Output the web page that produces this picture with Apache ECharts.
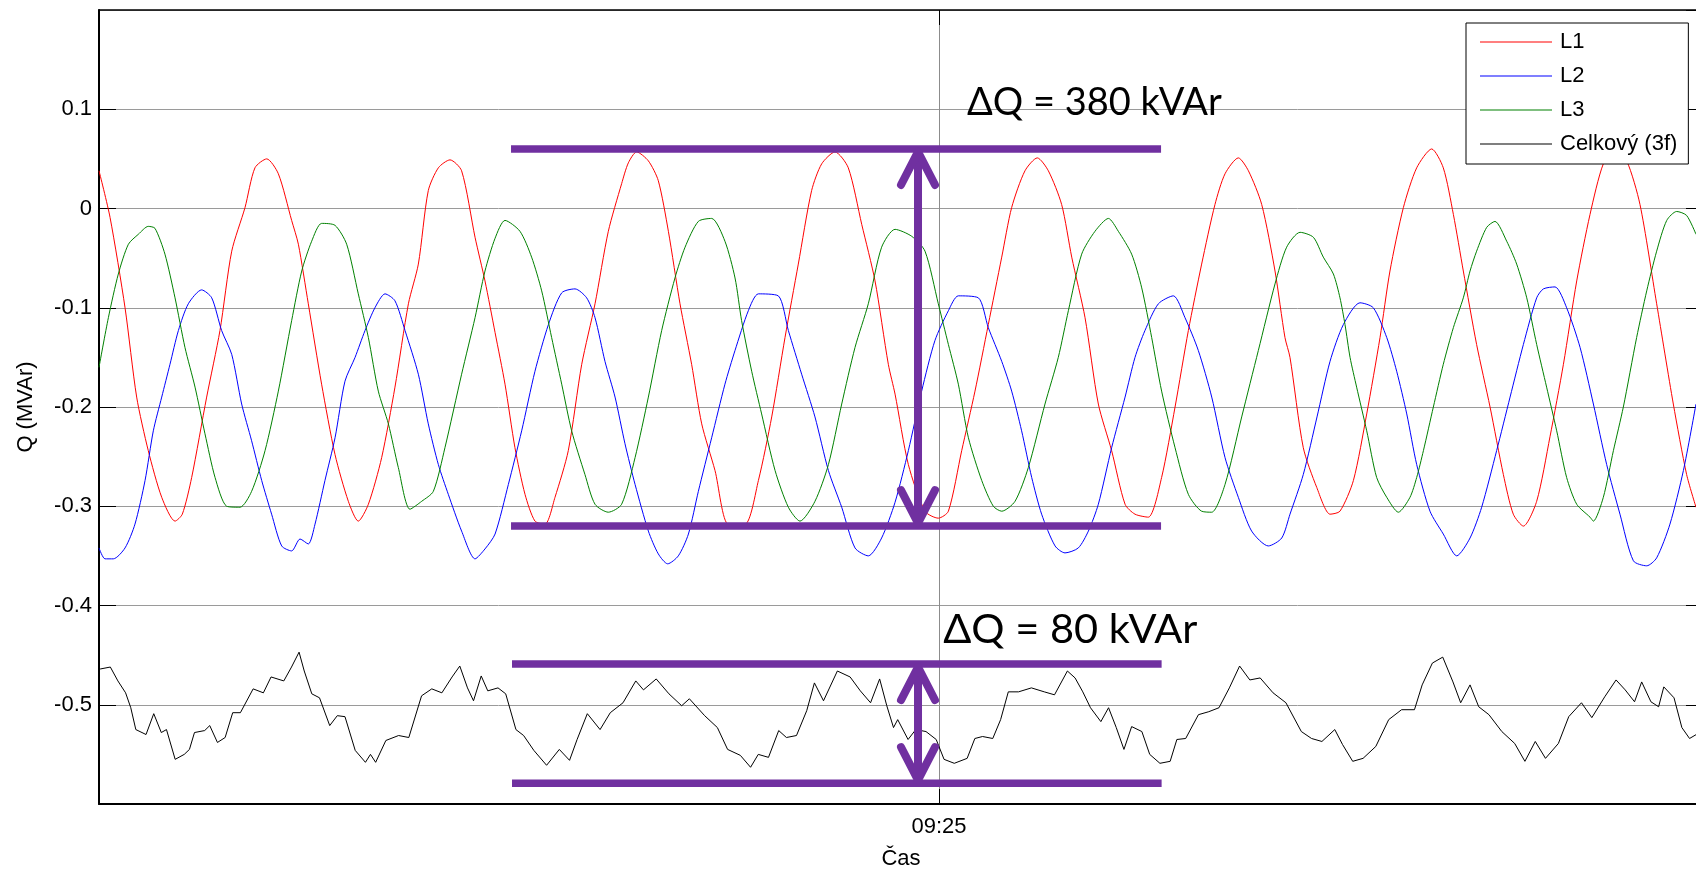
<!DOCTYPE html>
<html>
<head>
<meta charset="utf-8">
<script src="https://cdn.jsdelivr.net/npm/echarts@6/dist/echarts.min.js"></script>
<style>
html,body{margin:0;padding:0;background:#fff;}
#chart{width:1696px;height:869px;}
</style>
</head>
<body>
<div id="chart"></div>
<script>
// time axis: seconds since 09:24:00 ; values in MVAr
const timeTickLabels = { 60: '09:25' };
const seriesNames = ['L1', 'L2', 'L3', 'Celkový (3f)'];

const l1Time = [0,0.79,1.86,2.69,3.52,4.48,5.43,5.95,6.62,7.69,8.64,9.48,10.43,11.14,11.98,12.81,13.76,14.24,14.95,15.9,16.86,17.81,18.52,19.24,20.19,21.14,22.1,22.81,23.52,24.24,25.07,25.9,26.86,27.57,28.29,29.0,29.71,30.43,31.14,31.86,32.57,33.52,34.48,35.43,36.38,37.33,37.81,38.4,39.24,39.95,40.67,41.5,42.33,43.05,44.0,44.95,46.14,47.1,48.05,49.0,49.95,50.9,51.62,52.57,53.52,54.48,55.43,56.38,56.86,57.81,59.0,59.95,60.67,61.62,62.57,63.52,64.48,65.19,66.14,67.02,67.81,68.76,69.48,70.43,71.38,72.33,73.29,74.0,74.95,75.9,76.86,77.81,78.76,79.71,80.43,81.38,82.1,83.05,84.0,84.71,85.07,86.02,86.98,87.93,88.64,89.6,90.55,91.5,92.21,93.17,94.12,95.19,96.02,96.74,97.45,98.4,99.36,100.31,101.02,101.74,102.69,103.64,104.6,105.55,106.5,107.45,108.3,109.12,110.07,111.26,112.45,113.4,114.07];
const l1Q = [0.038,-0.009,-0.10,-0.19,-0.244,-0.291,-0.315,-0.308,-0.271,-0.19,-0.123,-0.043,0.001,0.041,0.050,0.035,-0.012,-0.036,-0.096,-0.177,-0.248,-0.295,-0.315,-0.298,-0.251,-0.18,-0.096,-0.056,0.018,0.041,0.049,0.038,-0.029,-0.073,-0.125,-0.177,-0.241,-0.288,-0.315,-0.318,-0.291,-0.244,-0.157,-0.096,-0.023,0.025,0.046,0.057,0.048,0.028,-0.023,-0.096,-0.157,-0.217,-0.264,-0.318,-0.318,-0.274,-0.21,-0.13,-0.056,0.018,0.045,0.057,0.041,-0.016,-0.073,-0.157,-0.187,-0.258,-0.305,-0.312,-0.305,-0.244,-0.184,-0.117,-0.049,0.001,0.038,0.051,0.038,0.004,-0.049,-0.11,-0.197,-0.244,-0.298,-0.308,-0.311,-0.271,-0.2,-0.123,-0.056,0.004,0.035,0.051,0.038,0.004,-0.063,-0.13,-0.15,-0.241,-0.281,-0.308,-0.305,-0.274,-0.207,-0.13,-0.063,0.001,0.041,0.060,0.041,-0.006,-0.063,-0.137,-0.2,-0.268,-0.308,-0.32,-0.295,-0.23,-0.157,-0.073,-0.006,0.045,0.058,0.048,0.004,-0.096,-0.197,-0.268,-0.301];

const l2Time = [0,0.43,1.02,1.86,2.57,3.29,3.88,4.48,5.07,5.67,6.38,7.33,8.05,8.76,9.48,10.19,10.9,11.62,12.33,13.05,13.76,14.36,14.95,15.43,16.14,16.86,17.57,18.29,19.0,19.71,20.43,21.14,21.86,22.81,23.52,24.24,24.95,25.9,26.86,27.57,28.29,29.24,30.19,31.14,32.1,33.05,34.0,34.83,35.43,36.14,36.86,37.57,38.29,39.24,39.95,40.62,41.38,42.1,42.81,43.76,44.71,45.43,46.38,47.1,48.52,49.24,50.19,51.14,52.1,53.05,54.0,54.95,55.9,56.86,57.81,58.76,59.71,60.67,61.38,62.81,63.52,64.48,65.19,65.9,66.62,67.33,68.29,69.0,69.95,70.67,71.38,72.33,73.29,74.0,74.71,75.67,76.74,77.57,78.52,79.48,80.43,81.38,82.33,83.52,84.48,85.07,86.02,87.0,87.93,88.88,90.07,91.02,91.98,92.69,93.41,94.12,95.07,96.02,96.98,97.93,98.76,99.83,100.79,101.74,102.69,103.17,104.0,104.83,105.79,106.74,107.69,108.64,109.6,110.55,111.26,112.21,113.17,114.07];
const l2Q = [-0.342,-0.353,-0.353,-0.342,-0.318,-0.274,-0.224,-0.19,-0.157,-0.123,-0.096,-0.082,-0.09,-0.123,-0.147,-0.197,-0.234,-0.274,-0.308,-0.34,-0.345,-0.333,-0.338,-0.318,-0.274,-0.231,-0.174,-0.15,-0.123,-0.10,-0.086,-0.093,-0.123,-0.167,-0.217,-0.258,-0.288,-0.325,-0.353,-0.343,-0.328,-0.278,-0.224,-0.164,-0.117,-0.085,-0.081,-0.09,-0.11,-0.154,-0.19,-0.237,-0.278,-0.325,-0.348,-0.358,-0.35,-0.328,-0.285,-0.231,-0.177,-0.143,-0.103,-0.086,-0.088,-0.123,-0.167,-0.21,-0.264,-0.301,-0.342,-0.35,-0.332,-0.296,-0.244,-0.184,-0.133,-0.103,-0.088,-0.09,-0.12,-0.154,-0.184,-0.224,-0.271,-0.308,-0.34,-0.347,-0.342,-0.325,-0.298,-0.241,-0.19,-0.15,-0.123,-0.096,-0.088,-0.11,-0.143,-0.19,-0.251,-0.291,-0.325,-0.34,-0.332,-0.308,-0.268,-0.21,-0.154,-0.117,-0.095,-0.10,-0.13,-0.164,-0.207,-0.258,-0.305,-0.328,-0.35,-0.332,-0.301,-0.244,-0.19,-0.137,-0.09,-0.081,-0.079,-0.10,-0.14,-0.197,-0.258,-0.308,-0.355,-0.36,-0.352,-0.318,-0.264,-0.197];

const l3Time = [0,0.67,1.38,2.1,2.81,3.52,4.0,4.71,5.43,6.14,6.86,7.57,8.29,9.12,10.07,10.9,11.86,12.81,13.76,14.48,15.19,15.9,16.86,17.69,18.52,19.24,19.95,20.67,21.38,22.21,23.05,23.88,24.71,25.9,26.86,27.57,28.29,29.0,30.07,30.9,31.62,32.33,33.05,33.76,34.71,35.43,36.38,37.33,38.29,39.24,40.19,41.14,41.86,42.81,43.76,44.71,45.43,45.9,46.62,47.33,48.29,49.24,50.07,51.14,52.1,53.05,54.0,54.95,55.9,56.86,58.05,59.0,59.95,60.67,61.38,62.1,63.05,63.88,64.48,65.43,66.38,67.57,68.52,69.24,70.19,71.14,72.1,72.81,73.76,74.48,75.19,75.9,76.86,77.81,78.76,79.48,80.43,81.62,82.81,84.0,84.83,85.79,86.74,87.45,88.17,88.64,89.0,89.36,89.83,90.55,91.26,91.98,92.81,93.64,94.12,94.6,95.31,96.02,96.74,97.45,97.93,98.4,99.12,99.71,100.55,101.26,101.98,102.69,103.4,104.12,104.83,105.55,106.5,106.74,107.45,108.17,108.88,109.83,110.55,111.26,111.98,112.69,113.4,114.07];
const l3Q = [-0.16,-0.11,-0.066,-0.036,-0.026,-0.018,-0.02,-0.046,-0.09,-0.14,-0.18,-0.227,-0.271,-0.30,-0.301,-0.285,-0.244,-0.184,-0.113,-0.063,-0.033,-0.015,-0.017,-0.036,-0.086,-0.13,-0.184,-0.217,-0.261,-0.303,-0.295,-0.285,-0.241,-0.167,-0.11,-0.063,-0.03,-0.012,-0.023,-0.049,-0.083,-0.13,-0.177,-0.224,-0.268,-0.298,-0.306,-0.298,-0.251,-0.19,-0.123,-0.07,-0.039,-0.013,-0.010,-0.033,-0.07,-0.113,-0.164,-0.207,-0.264,-0.301,-0.315,-0.295,-0.258,-0.197,-0.14,-0.096,-0.039,-0.021,-0.028,-0.043,-0.096,-0.137,-0.177,-0.231,-0.274,-0.30,-0.305,-0.295,-0.261,-0.197,-0.15,-0.103,-0.046,-0.023,-0.010,-0.023,-0.046,-0.08,-0.13,-0.184,-0.241,-0.288,-0.305,-0.306,-0.278,-0.21,-0.143,-0.076,-0.039,-0.024,-0.029,-0.049,-0.066,-0.09,-0.117,-0.15,-0.18,-0.224,-0.271,-0.291,-0.306,-0.291,-0.271,-0.244,-0.2,-0.157,-0.12,-0.09,-0.063,-0.043,-0.019,-0.013,-0.033,-0.056,-0.09,-0.137,-0.18,-0.224,-0.271,-0.298,-0.311,-0.315,-0.291,-0.244,-0.2,-0.13,-0.083,-0.043,-0.012,-0.003,-0.007,-0.026];

const totalTime = [0.08,0.81,1.35,1.9,2.27,2.63,3.36,3.91,4.45,4.82,5.44,6.09,6.46,6.82,7.55,7.91,8.46,9.01,9.55,10.1,11.01,11.74,12.29,13.2,13.75,14.29,14.66,15.2,15.75,16.48,17.02,17.57,18.3,19.03,19.39,19.76,20.49,21.4,22.13,23.04,23.77,24.49,25.22,25.77,26.32,26.75,27.3,27.77,28.5,29.05,29.78,30.33,31.06,31.97,32.88,33.61,34.15,34.88,35.79,36.52,37.43,38.34,38.89,39.8,40.71,41.62,42.17,43.26,44.17,44.9,45.81,46.54,47.09,47.82,48.55,49.1,49.82,50.55,51.1,51.75,52.74,53.65,54.38,55.11,55.76,56.27,56.75,57.05,57.79,58.34,59.07,59.8,60.36,61.09,62.01,62.56,63.11,63.84,64.4,64.95,65.68,66.6,67.52,68.25,69.17,69.72,70.27,70.82,71.56,72.11,72.66,73.21,73.76,74.49,75.05,75.78,76.51,76.99,77.62,78.53,79.27,80.0,80.74,81.47,82.2,82.94,83.86,84.78,85.88,86.61,87.35,88.27,88.82,89.55,90.29,91.2,92.12,93.04,93.96,94.51,95.24,95.98,96.71,97.26,97.93,98.55,99.28,100.2,101.12,101.85,102.59,103.32,104.24,104.98,105.89,106.63,107.55,108.36,109.01,109.68,110.19,110.85,111.4,111.77,112.5,113.06,113.61,114.09];
const totalQ = [-0.464,-0.462,-0.476,-0.488,-0.503,-0.525,-0.53,-0.509,-0.528,-0.525,-0.555,-0.55,-0.545,-0.528,-0.526,-0.521,-0.538,-0.533,-0.508,-0.508,-0.484,-0.488,-0.472,-0.476,-0.462,-0.447,-0.466,-0.489,-0.493,-0.521,-0.511,-0.512,-0.546,-0.558,-0.55,-0.558,-0.536,-0.531,-0.533,-0.491,-0.484,-0.488,-0.472,-0.461,-0.483,-0.496,-0.471,-0.486,-0.483,-0.489,-0.525,-0.531,-0.546,-0.561,-0.545,-0.556,-0.535,-0.509,-0.525,-0.508,-0.498,-0.476,-0.485,-0.474,-0.489,-0.501,-0.494,-0.511,-0.523,-0.545,-0.551,-0.563,-0.55,-0.553,-0.526,-0.533,-0.531,-0.506,-0.478,-0.496,-0.466,-0.472,-0.486,-0.498,-0.474,-0.501,-0.523,-0.515,-0.535,-0.525,-0.527,-0.535,-0.555,-0.559,-0.554,-0.534,-0.532,-0.534,-0.515,-0.487,-0.487,-0.483,-0.487,-0.49,-0.466,-0.473,-0.487,-0.503,-0.517,-0.503,-0.523,-0.545,-0.522,-0.527,-0.55,-0.559,-0.557,-0.535,-0.534,-0.51,-0.507,-0.503,-0.483,-0.461,-0.475,-0.473,-0.488,-0.498,-0.527,-0.534,-0.537,-0.525,-0.54,-0.557,-0.554,-0.542,-0.515,-0.505,-0.505,-0.48,-0.458,-0.452,-0.477,-0.498,-0.48,-0.502,-0.51,-0.527,-0.539,-0.557,-0.537,-0.554,-0.539,-0.512,-0.498,-0.513,-0.492,-0.475,-0.485,-0.497,-0.477,-0.497,-0.502,-0.482,-0.493,-0.523,-0.534,-0.53];

function zip(t, v) { return t.map((x, i) => [x, v[i]]); }

const chart = echarts.init(document.getElementById('chart'), null, { renderer: 'canvas' });
const FONT = 'Liberation Sans, Arial, sans-serif';
const PURPLE = '#7030A0';

// annotation brackets (ΔQ) drawn over the plot
const brackets = [
  { t0: 29.43, t1: 75.86, tArrow: 58.5, vTop: 0.060, vBot: -0.320, text: 'ΔQ = 380 kVAr', tText: 62.0, vText: 0.107, size: 38 },
  { t0: 29.5, t1: 75.9, tArrow: 58.5, vTop: -0.459, vBot: -0.579, text: 'ΔQ = 80 kVAr', tText: 60.3, vText: -0.424, size: 41.5 }
];

function renderBracket(params, api) {
  const b = brackets[params.dataIndex];
  const a = api.coord([b.t0, b.vTop]);
  const c = api.coord([b.t1, b.vTop]);
  const d = api.coord([b.t0, b.vBot]);
  const e = api.coord([b.t1, b.vBot]);
  const top = api.coord([b.tArrow, b.vTop]);
  const bot = api.coord([b.tArrow, b.vBot]);
  const tx = api.coord([b.tText, b.vText]);
  const x = top[0];
  const y1 = top[1] + 3, y2 = bot[1] - 3;
  const hw = 17, hh = 33;
  const lineStyle = { stroke: PURPLE, lineWidth: 7.5 };
  const arrowStyle = { stroke: PURPLE, lineWidth: 8, lineCap: 'round', lineJoin: 'round', fill: null };
  return {
    type: 'group',
    children: [
      { type: 'line', shape: { x1: a[0], y1: a[1], x2: c[0], y2: c[1] }, style: lineStyle },
      { type: 'line', shape: { x1: d[0], y1: d[1], x2: e[0], y2: e[1] }, style: lineStyle },
      { type: 'line', shape: { x1: x, y1: y1, x2: x, y2: y2 }, style: { stroke: PURPLE, lineWidth: 8 } },
      { type: 'polyline', shape: { points: [[x - hw, y1 + hh], [x, y1], [x + hw, y1 + hh]] }, style: arrowStyle },
      { type: 'polyline', shape: { points: [[x - hw, y2 - hh], [x, y2], [x + hw, y2 - hh]] }, style: arrowStyle },
      { type: 'text', x: tx[0], y: tx[1], style: { text: b.text, fill: '#000', fontSize: b.size, fontFamily: 'Lato, Open Sans, sans-serif', align: 'left', verticalAlign: 'middle' } }
    ]
  };
}

const xCommon = { type: 'value', min: 0, max: 114.57, interval: 60 };
const yCommon = { type: 'value', min: -0.6, max: 0.2, interval: 0.1 };

const option = {
  animation: false,
  backgroundColor: '#ffffff',
  grid: { left: 99, top: 10, right: -7, bottom: 65, containLabel: false, outerBoundsMode: 'none' },
  legend: {
    data: seriesNames,
    orient: 'vertical',
    left: 1466,
    top: 23,
    padding: [8, 11, 9, 14],
    itemGap: 12,
    itemWidth: 72,
    itemHeight: 1,
    icon: 'rect',
    itemStyle: { borderWidth: 0 },
    backgroundColor: '#ffffff',
    borderColor: '#000000',
    borderWidth: 1,
    borderRadius: 0,
    textStyle: { fontFamily: FONT, fontSize: 22, color: '#000', padding: [0, 0, 0, 3] }
  },
  xAxis: [
    Object.assign({}, xCommon, {
      position: 'bottom',
      name: 'Čas',
      nameLocation: 'middle',
      nameGap: 44,
      nameTextStyle: { fontFamily: FONT, fontSize: 22, color: '#000' },
      axisLine: { show: true, onZero: false, lineStyle: { color: '#000', width: 2 } },
      axisTick: { show: true, inside: true, length: 15, lineStyle: { color: '#000', width: 1 } },
      axisLabel: {
        show: true, margin: 12, showMinLabel: false, showMaxLabel: false,
        fontFamily: FONT, fontSize: 22, color: '#000',
        formatter: v => timeTickLabels[Math.round(v)] || ''
      },
      splitLine: { show: true, lineStyle: { color: '#8c8c8c', width: 1 } }
    }),
    Object.assign({}, xCommon, {
      position: 'top',
      axisLine: { show: true, onZero: false, lineStyle: { color: '#000', width: 1.5 } },
      axisTick: { show: true, inside: true, length: 15, lineStyle: { color: '#000', width: 1 } },
      axisLabel: { show: false },
      splitLine: { show: false }
    })
  ],
  yAxis: [
    Object.assign({}, yCommon, {
      position: 'left',
      name: 'Q (MVAr)',
      nameLocation: 'middle',
      nameRotate: 90,
      nameGap: 62,
      nameTextStyle: { fontFamily: FONT, fontSize: 22, color: '#000' },
      axisLine: { show: true, onZero: false, lineStyle: { color: '#000', width: 2 } },
      axisTick: { show: true, inside: true, length: 17, lineStyle: { color: '#000', width: 1 } },
      axisLabel: {
        show: true, margin: 7, showMinLabel: false, showMaxLabel: false,
        fontFamily: FONT, fontSize: 22, color: '#000',
        formatter: v => String(Math.round(v * 10) / 10)
      },
      splitLine: { show: true, lineStyle: { color: '#9a9a9a', width: 1 } }
    }),
    Object.assign({}, yCommon, {
      position: 'right',
      axisLine: { show: true, onZero: false, lineStyle: { color: '#000', width: 1.5 } },
      axisTick: { show: true, inside: true, length: 17, lineStyle: { color: '#000', width: 1 } },
      axisLabel: { show: false },
      splitLine: { show: false }
    })
  ],
  series: [
    { name: seriesNames[0], type: 'line', data: zip(l1Time, l1Q), showSymbol: false, symbol: 'none', smooth: 0.25, lineStyle: { color: '#ff0000', width: 1 }, itemStyle: { color: '#ff0000' }, z: 3 },
    { name: seriesNames[1], type: 'line', data: zip(l2Time, l2Q), showSymbol: false, symbol: 'none', smooth: 0.25, lineStyle: { color: '#0000ff', width: 1 }, itemStyle: { color: '#0000ff' }, z: 3 },
    { name: seriesNames[2], type: 'line', data: zip(l3Time, l3Q), showSymbol: false, symbol: 'none', smooth: 0.25, lineStyle: { color: '#008000', width: 1 }, itemStyle: { color: '#008000' }, z: 3 },
    { name: seriesNames[3], type: 'line', data: zip(totalTime, totalQ), showSymbol: false, symbol: 'none', lineStyle: { color: '#000000', width: 1 }, itemStyle: { color: '#000000' }, z: 3 },
    { name: 'annotations', type: 'custom', data: brackets.map((b, i) => [b.tArrow, b.vTop]), renderItem: renderBracket, clip: false, z: 5, silent: true }
  ]
};

chart.setOption(option);
</script>
</body>
</html>
